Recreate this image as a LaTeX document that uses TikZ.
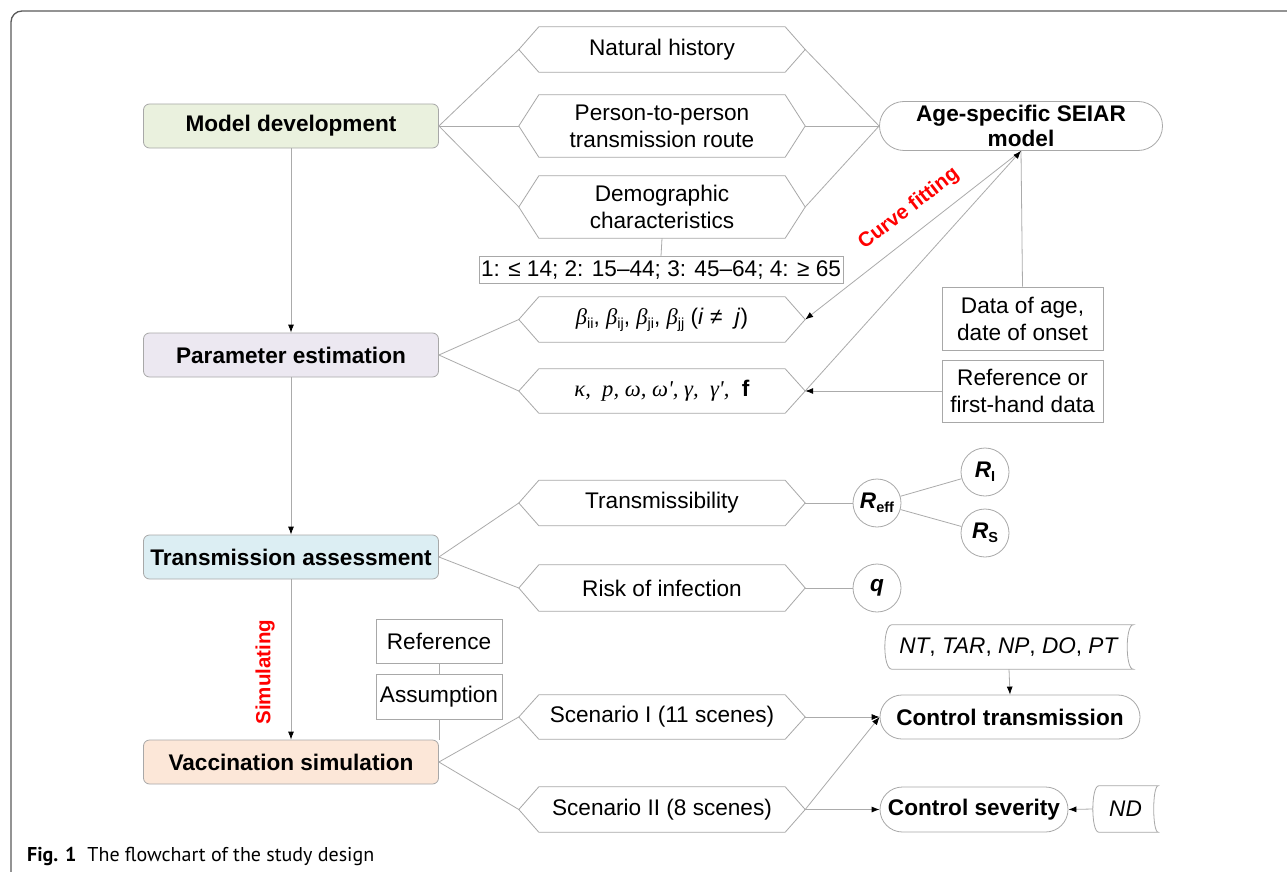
\documentclass[tikz,border=0pt]{standalone}
\usepackage{fontspec}
\setmainfont{Liberation Sans}
\newfontfamily\grk{Liberation Serif}
\newfontfamily\capfont{PT Sans}
\usetikzlibrary{shapes.misc,arrows.meta,calc}

\definecolor{lnc}{HTML}{ABABAB}
\definecolor{bdc}{HTML}{A8A8A8}
\definecolor{framec}{HTML}{5A5A5A}
\definecolor{fgreen}{HTML}{EAF1DE}
\definecolor{fpurp}{HTML}{ECE8F1}
\definecolor{fblue}{HTML}{DCEEF3}
\definecolor{forange}{HTML}{FCE7D8}

\newcommand\bigfont{\fontsize{22.6}{27}\selectfont}
\newcommand\mysub[1]{\raisebox{-0.35ex}{\fontsize{14.5}{14.5}\selectfont #1}}
\newcommand\gb{{\grk\itshape β}}

\newcommand\drawhex[1]{\draw[shapeline] (#1.west) -- ([xshift=20pt]#1.north west) -- ([xshift=-20pt]#1.north east) -- (#1.east) -- ([xshift=-20pt]#1.south east) -- ([xshift=20pt]#1.south west) -- cycle;}
\newcommand\drawstore[3]{\draw[shapeline] ([xshift=#2]#1.north west) -- (#1.north east) .. controls ([xshift=-#3]#1.north east) and ([xshift=-#3]#1.south east) .. (#1.south east) -- ([xshift=#2]#1.south west) .. controls ([xshift=-0.33*#2]#1.south west) and ([xshift=-0.33*#2]#1.north west) .. ([xshift=#2]#1.north west) -- cycle;}

\tikzset{
  mainbox/.style={draw=bdc, rounded corners=6pt, minimum width=295pt, minimum height=44pt, inner sep=0pt, font=\bigfont\bfseries, line width=0.8pt},
  hexbox/.style={minimum width=286pt, inner sep=0pt, align=center, font=\bigfont},
  shapeline/.style={draw=bdc, line width=0.8pt},
  plainbox/.style={draw=bdc, inner sep=0pt, align=center, font=\bigfont, line width=0.8pt},
  stadium/.style={draw=bdc, rounded rectangle, inner sep=0pt, align=center, font=\bigfont\bfseries, line width=0.8pt},
  storebox/.style={inner sep=0pt, align=center, font=\bigfont},
  circ/.style={draw=bdc, circle, minimum size=48pt, inner sep=0pt, font=\bigfont\bfseries, line width=0.8pt},
  conn/.style={draw=lnc, line width=0.8pt},
  arr/.style={draw=lnc, line width=0.8pt, -{Latex[length=8pt,width=6pt,color=black]}},
  redlab/.style={text=red, font=\fontsize{20.5}{20.5}\selectfont\bfseries, inner sep=0pt},
}

\begin{document}
\begin{tikzpicture}[x=1pt,y=-1pt]
\useasboundingbox (0,0) rectangle (1287,872);
\fill[white] (0,0) rectangle (1287,872);
\begin{scope}
\clip (0,0) rectangle (1287,872);
\draw[framec, line width=1.3pt, rounded corners=11pt] (11,885) -- (11,11) -- (1300,11);
\end{scope}

% main column
\node[mainbox, fill=fgreen] (md) at (291,126) {Model development};
\node[mainbox, fill=fpurp] (pe) at (291,355) {Parameter estimation};
\node[mainbox, fill=fblue] (ta) at (291,557) {Transmission assessment};
\node[mainbox, fill=forange] (vs) at (291,762) {Vaccination simulation};

\draw[arr] (md.south) -- (pe.north);
\draw[arr] (pe.south) -- (ta.north);
\draw[arr] (ta.south) -- (vs.north);
\node[redlab, rotate=90] (sim) at (265,672) {Simulating};

% model development branch
\node[hexbox, minimum height=45pt] (h1) at (662,49.5) {Natural history};
\node[hexbox, minimum height=62pt] (h2) at (662,126) {Person-to-person\\transmission route};
\node[hexbox, minimum height=62pt] (h3) at (662,207) {Demographic\\characteristics};
\drawhex{h1}\drawhex{h2}\drawhex{h3}
\node[plainbox, minimum width=364pt, minimum height=27pt] (ag) at (661,270) {1: ≤ 14; 2: 15–44; 3: 45–64; 4: ≥ 65};
\node[stadium, minimum width=283pt, minimum height=49pt, font=\fontsize{22.6}{25}\selectfont\bfseries] (seiar) at (1021,126) {Age-specific SEIAR\\model};

\draw[conn] (md.east) -- (h1.west);
\draw[conn] (md.east) -- (h2.west);
\draw[conn] (md.east) -- (h3.west);
\draw[conn] (h1.east) -- (seiar.west);
\draw[conn] (h2.east) -- (seiar.west);
\draw[conn] (h3.east) -- (seiar.west);
\draw[conn] (h3.south) -- (ag.north);

% parameter estimation branch
\node[hexbox, minimum height=45pt] (b1) at (662,319.5) {\gb\mysub{ii}, \gb\mysub{ij}, \gb\mysub{ji}, \gb\mysub{jj} (\textit{i} ≠ \ \textit{j})};
\node[hexbox, minimum height=44pt] (k1) at (662,391) {{\grk\itshape κ,\ \ p, ω, ω', γ,\ \ γ',}\ \ \textbf{f}};
\drawhex{b1}\drawhex{k1}
\node[plainbox, minimum width=161pt, minimum height=63pt] (da) at (1022.5,318.5) {Data of age,\\date of onset};
\node[plainbox, minimum width=161pt, minimum height=62pt] (rf) at (1022.5,391) {Reference or\\first-hand data};

\draw[conn] (pe.east) -- (b1.west);
\draw[conn] (pe.east) -- (k1.west);
\draw[arr] (seiar.south) -- (b1.east);
\draw[conn] (da.north) -- (seiar.south);
\draw[arr] (k1.east) -- (seiar.south);
\draw[arr] (rf.west) -- (k1.east);
\node[redlab, rotate=37.6] (cf) at (909,209) {Curve fitting};

% transmission assessment branch
\node[hexbox, minimum height=45pt] (tr) at (662,503) {Transmissibility};
\node[hexbox, minimum height=46pt] (rk) at (662,588) {Risk of infection};
\drawhex{tr}\drawhex{rk}
\node[circ] (reff) at (877,503) {\textit{R}\mysub{eff}};
\node[circ] (ri) at (985,472) {\textit{R}\mysub{I}};
\node[circ] (rs) at (985,533) {\textit{R}\mysub{S}};
\node[circ] (q) at (877,588) {\textit{q}};

\draw[conn] (ta.east) -- (tr.west);
\draw[conn] (ta.east) -- (rk.west);
\draw[conn] (tr.east) -- (reff.west);
\draw[conn] (reff) -- (ri);
\draw[conn] (reff) -- (rs);
\draw[conn] (rk.east) -- (q.west);

% vaccination simulation branch
\node[plainbox, minimum width=126pt, minimum height=44pt] (ref) at (439,641) {Reference};
\node[plainbox, minimum width=126pt, minimum height=45pt] (asm) at (439,696.5) {Assumption};
\draw[conn] (ref.south) -- (asm.north);
\draw[conn] (asm.south) -- (asm.south |- vs.north);

\node[hexbox, minimum height=44pt] (s1) at (662,717) {Scenario I (11 scenes)};
\node[hexbox, minimum height=45pt] (s2) at (662,809.5) {Scenario II (8 scenes)};
\drawhex{s1}\drawhex{s2}
\node[stadium, minimum width=260pt, minimum height=44pt] (ct) at (1010,717) {Control transmission};
\node[stadium, minimum width=188pt, minimum height=45pt] (cs) at (974,809.5) {Control severity};
\node[storebox, minimum width=248pt, minimum height=44pt] (nt) at (1009,647) {\textit{NT}, \textit{TAR}, \textit{NP}, \textit{DO}, \textit{PT}};
\drawstore{nt}{7pt}{8pt}
\node[storebox, minimum width=65pt, minimum height=46pt] (nd) at (1125.5,809) {\textit{ND}};
\drawstore{nd}{6pt}{6pt}

\draw[conn] (vs.east) -- (s1.west);
\draw[conn] (vs.east) -- (s2.west);
\draw[arr] (s1.east) -- (ct.west);
\draw[arr] (s2.east) -- (ct.west);
\draw[arr] (s2.east) -- (cs.west);
\draw[arr] (nt.south) -- (ct.north);
\draw[arr] (nd.west) -- (cs.east);

% caption
\node[anchor=base west, inner sep=0pt, font=\capfont\fontsize{20}{22}\selectfont] (cap) at (27,861) {\textbf{Fig. 1}\hspace{0.55em}The flowchart of the study design};
\end{tikzpicture}
\end{document}
